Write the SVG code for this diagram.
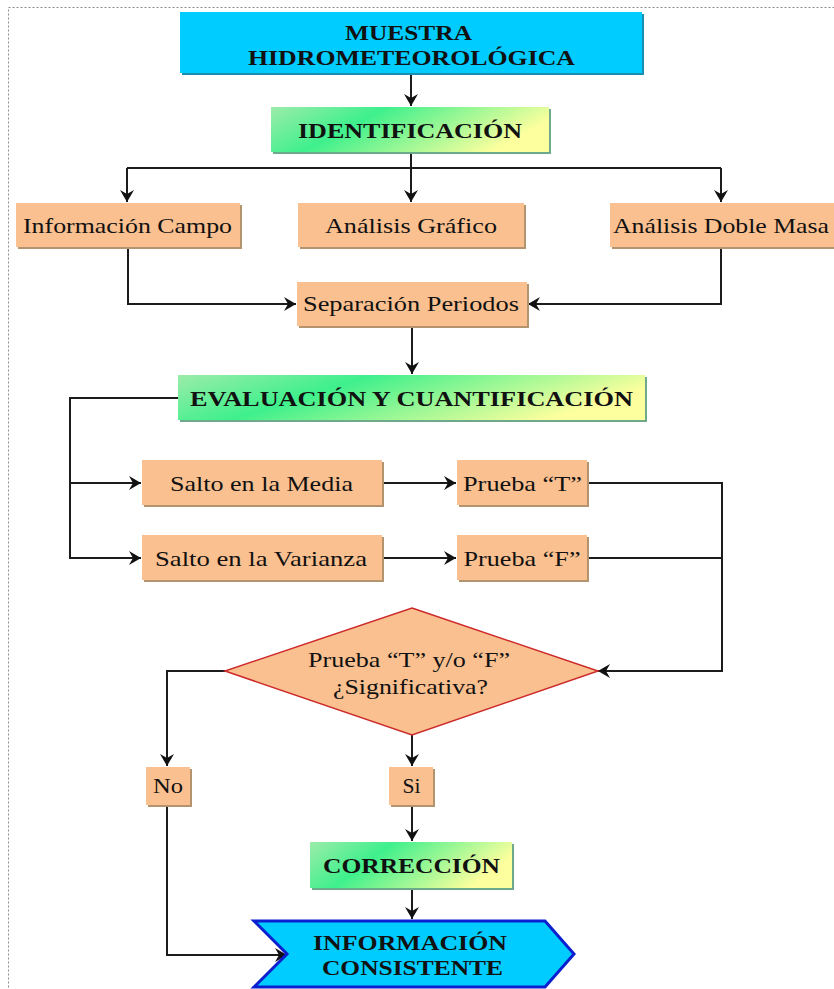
<svg xmlns="http://www.w3.org/2000/svg" width="834" height="989" viewBox="0 0 834 989">
<defs>
<linearGradient id="g" x1="0" y1="0" x2="1" y2="0.3">
<stop offset="0" stop-color="#9ceca8"/>
<stop offset="0.38" stop-color="#3ef08c"/>
<stop offset="1" stop-color="#fdff9e"/>
</linearGradient>
<marker id="a" markerUnits="userSpaceOnUse" markerWidth="13" markerHeight="15" refX="12" refY="7" orient="auto" viewBox="0 0 13 14">
<path d="M0,0 L12,7 L0,14 L4,7 z" fill="#111"/>
</marker>
<style>
.o{fill:#fac090}
.os{fill:#b4946f}
.c{fill:#00ccff}
.cs{fill:#1b8fb2}
.gr{fill:url(#g)}
.gs{fill:#6fa98c}
.t{font-family:"Liberation Serif","Times New Roman",serif;font-size:21px;fill:#111}
.b{font-family:"Liberation Serif","Times New Roman",serif;font-size:20px;font-weight:bold;fill:#111}
.ln{fill:none;stroke:#1c1c1c;stroke-width:2}
.ar{marker-end:url(#a)}
</style>
</defs>
<rect width="834" height="989" fill="#fff"/>
<rect x="8.5" y="7.5" width="840" height="1000" fill="none" stroke="#8a8a8a" stroke-width="1" stroke-dasharray="2,2"/>

<g id="connectors">
<path class="ln ar" d="M411,74 V106"/>
<path class="ln" d="M411,152 V168 M127,168 H721"/>
<path class="ln ar" d="M127,168 V202"/>
<path class="ln ar" d="M411,168 V202"/>
<path class="ln ar" d="M721,168 V202"/>
<path class="ln ar" d="M128,247 V304 H296"/>
<path class="ln ar" d="M721,247 V304 H528"/>
<path class="ln ar" d="M412,327 V374"/>
<path class="ln ar" d="M178,398 H70 V558 H141"/>
<path class="ln ar" d="M70,483 H141"/>
<path class="ln ar" d="M382,483 H456"/>
<path class="ln ar" d="M382,558 H456"/>
<path class="ln ar" d="M587,483 H722 V671 H598"/>
<path class="ln" d="M587,558 H722"/>
<path class="ln ar" d="M225,671 H167 V766"/>
<path class="ln ar" d="M412,735 V766"/>
<path class="ln ar" d="M167,805 V955 H287"/>
<path class="ln ar" d="M412,805 V841"/>
<path class="ln ar" d="M412,888 V919"/>
</g>

<g id="muestra">
<rect class="cs" x="182" y="14" width="462" height="61"/>
<rect class="c" x="180" y="12" width="462" height="61"/>
<text class="b" x="408.5" y="40" text-anchor="middle" textLength="127" lengthAdjust="spacingAndGlyphs">MUESTRA</text>
<text class="b" x="411.5" y="65" text-anchor="middle" textLength="327" lengthAdjust="spacingAndGlyphs">HIDROMETEOROLÓGICA</text>
</g>

<g id="identificacion">
<rect class="gs" x="273" y="109" width="278" height="45"/>
<rect class="gr" x="271" y="107" width="278" height="45"/>
<text class="b" x="410" y="138" text-anchor="middle" textLength="224" lengthAdjust="spacingAndGlyphs">IDENTIFICACIÓN</text>
</g>

<g id="info-campo">
<rect class="os" x="18" y="205" width="224" height="44"/>
<rect class="o" x="16" y="203" width="224" height="44"/>
<text class="t" x="127.5" y="233" text-anchor="middle" textLength="209" lengthAdjust="spacingAndGlyphs">Información Campo</text>
</g>

<g id="analisis-grafico">
<rect class="os" x="300" y="205" width="226" height="44"/>
<rect class="o" x="298" y="203" width="226" height="44"/>
<text class="t" x="411" y="233" text-anchor="middle" textLength="172" lengthAdjust="spacingAndGlyphs">Análisis Gráfico</text>
</g>

<g id="analisis-doble-masa">
<rect class="os" x="612" y="205" width="224" height="44"/>
<rect class="o" x="610" y="203" width="224" height="44"/>
<text class="t" x="721" y="233" text-anchor="middle" textLength="216" lengthAdjust="spacingAndGlyphs">Análisis Doble Masa</text>
</g>

<g id="separacion">
<rect class="os" x="299" y="284" width="230" height="44"/>
<rect class="o" x="297" y="282" width="230" height="44"/>
<text class="t" x="411" y="311" text-anchor="middle" textLength="216" lengthAdjust="spacingAndGlyphs">Separación Periodos</text>
</g>

<g id="evaluacion">
<rect class="gs" x="180" y="377" width="467" height="45"/>
<rect class="gr" x="178" y="375" width="467" height="45"/>
<text class="b" x="411.5" y="406" text-anchor="middle" textLength="443" lengthAdjust="spacingAndGlyphs">EVALUACIÓN Y CUANTIFICACIÓN</text>
</g>

<g id="salto-media">
<rect class="os" x="144" y="462" width="240" height="45"/>
<rect class="o" x="142" y="460" width="240" height="45"/>
<text class="t" x="261.5" y="491" text-anchor="middle" textLength="183" lengthAdjust="spacingAndGlyphs">Salto en la Media</text>
</g>

<g id="salto-varianza">
<rect class="os" x="144" y="537" width="240" height="45"/>
<rect class="o" x="142" y="535" width="240" height="45"/>
<text class="t" x="261" y="566" text-anchor="middle" textLength="212" lengthAdjust="spacingAndGlyphs">Salto en la Varianza</text>
</g>

<g id="prueba-t">
<rect class="os" x="459" y="462" width="130" height="45"/>
<rect class="o" x="457" y="460" width="130" height="45"/>
<text class="t" x="522.5" y="491" text-anchor="middle" textLength="119" lengthAdjust="spacingAndGlyphs">Prueba “T”</text>
</g>

<g id="prueba-f">
<rect class="os" x="459" y="537" width="130" height="45"/>
<rect class="o" x="457" y="535" width="130" height="45"/>
<text class="t" x="522" y="566" text-anchor="middle" textLength="117" lengthAdjust="spacingAndGlyphs">Prueba “F”</text>
</g>

<g id="decision">
<polygon points="412,608 598,671 412,735 225,671" fill="#fac090" stroke="#cc2a2a" stroke-width="1.5"/>
<text class="t" x="409" y="667" text-anchor="middle" textLength="202" lengthAdjust="spacingAndGlyphs">Prueba “T” y/o “F”</text>
<text class="t" x="410.5" y="694" text-anchor="middle" textLength="155" lengthAdjust="spacingAndGlyphs">¿Significativa?</text>
</g>

<g id="no">
<rect class="os" x="148" y="769" width="44" height="38"/>
<rect class="o" x="146" y="767" width="44" height="38"/>
<text class="t" x="168" y="793" text-anchor="middle" textLength="30" lengthAdjust="spacingAndGlyphs">No</text>
</g>

<g id="si">
<rect class="os" x="391" y="769" width="44" height="38"/>
<rect class="o" x="389" y="767" width="44" height="38"/>
<text class="t" x="411.5" y="793" text-anchor="middle" textLength="18" lengthAdjust="spacingAndGlyphs">Si</text>
</g>

<g id="correccion">
<rect class="gs" x="312" y="844" width="202" height="46"/>
<rect class="gr" x="310" y="842" width="202" height="46"/>
<text class="b" x="411.5" y="873" text-anchor="middle" textLength="177" lengthAdjust="spacingAndGlyphs">CORRECCIÓN</text>
</g>

<g id="informacion-consistente">
<polygon points="254,921 545,921 574,954 545,987 254,987 287,954" fill="#00ccff" stroke="#0a1fd0" stroke-width="3" stroke-linejoin="miter"/>
<text class="b" x="410" y="950" text-anchor="middle" textLength="194" lengthAdjust="spacingAndGlyphs">INFORMACIÓN</text>
<text class="b" x="412.5" y="975" text-anchor="middle" textLength="181" lengthAdjust="spacingAndGlyphs">CONSISTENTE</text>
</g>
</svg>
